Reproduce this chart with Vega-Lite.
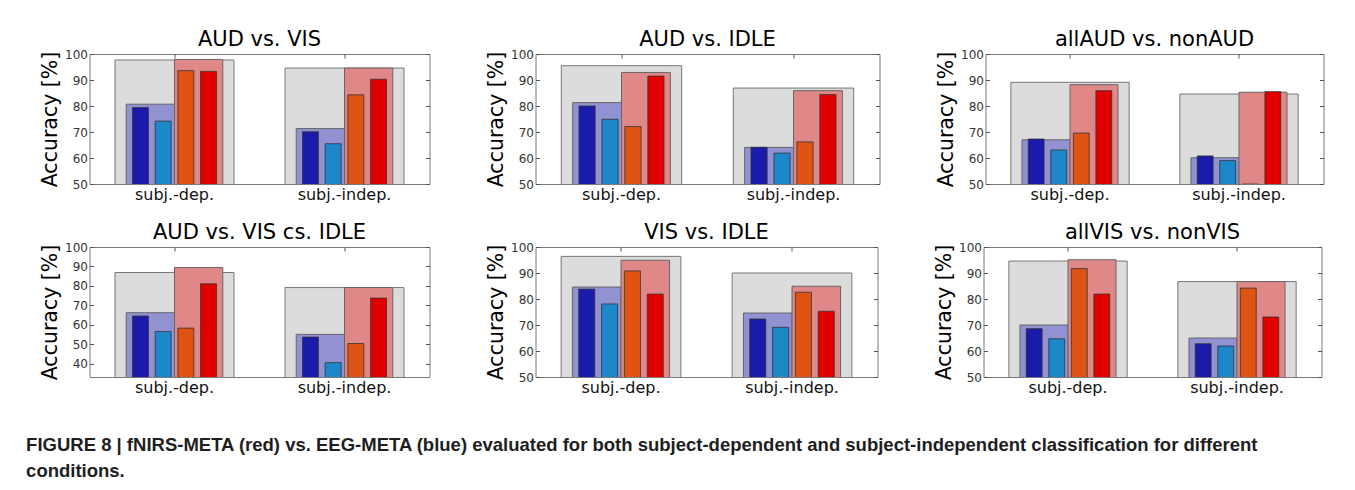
{
  "$schema": "https://vega.github.io/schema/vega-lite/v6.json",
  "padding": {"left": 25.5, "top": 28, "right": 5, "bottom": 5},
  "background": "white",
  "config": {
    "view": {"stroke": "#7a7a7a", "strokeWidth": 1},
    "font": "DejaVu Sans",
    "axis": {"labelFont": "DejaVu Sans", "titleFont": "DejaVu Sans", "labelColor": "#333", "tickColor": "#555", "domain": false, "grid": false, "labelFontSize": 12, "titleFontWeight": "normal", "titleColor": "#000"},
    "title": {"font": "DejaVu Sans", "fontWeight": "normal", "fontSize": 21, "color": "#000", "offset": -2},
    "concat": {"spacing": 55}
  },
  "datasets": {
    "acc": [
      {"panel": "AUD vs. VIS", "group": "subj.-dep.", "kind": "combined", "series": "META", "value": 97.7},
      {"panel": "AUD vs. VIS", "group": "subj.-dep.", "kind": "meta", "series": "EEG-META", "value": 80.7},
      {"panel": "AUD vs. VIS", "group": "subj.-dep.", "kind": "meta", "series": "fNIRS-META", "value": 97.9},
      {"panel": "AUD vs. VIS", "group": "subj.-dep.", "kind": "single", "series": "EEG-a", "value": 79.4},
      {"panel": "AUD vs. VIS", "group": "subj.-dep.", "kind": "single", "series": "EEG-b", "value": 74.2},
      {"panel": "AUD vs. VIS", "group": "subj.-dep.", "kind": "single", "series": "fNIRS-a", "value": 93.6},
      {"panel": "AUD vs. VIS", "group": "subj.-dep.", "kind": "single", "series": "fNIRS-b", "value": 93.3},
      {"panel": "AUD vs. VIS", "group": "subj.-indep.", "kind": "combined", "series": "META", "value": 94.6},
      {"panel": "AUD vs. VIS", "group": "subj.-indep.", "kind": "meta", "series": "EEG-META", "value": 71.3},
      {"panel": "AUD vs. VIS", "group": "subj.-indep.", "kind": "meta", "series": "fNIRS-META", "value": 94.6},
      {"panel": "AUD vs. VIS", "group": "subj.-indep.", "kind": "single", "series": "EEG-a", "value": 70.1},
      {"panel": "AUD vs. VIS", "group": "subj.-indep.", "kind": "single", "series": "EEG-b", "value": 65.5},
      {"panel": "AUD vs. VIS", "group": "subj.-indep.", "kind": "single", "series": "fNIRS-a", "value": 84.3},
      {"panel": "AUD vs. VIS", "group": "subj.-indep.", "kind": "single", "series": "fNIRS-b", "value": 90.3},

      {"panel": "AUD vs. IDLE", "group": "subj.-dep.", "kind": "combined", "series": "META", "value": 95.5},
      {"panel": "AUD vs. IDLE", "group": "subj.-dep.", "kind": "meta", "series": "EEG-META", "value": 81.3},
      {"panel": "AUD vs. IDLE", "group": "subj.-dep.", "kind": "meta", "series": "fNIRS-META", "value": 92.9},
      {"panel": "AUD vs. IDLE", "group": "subj.-dep.", "kind": "single", "series": "EEG-a", "value": 80.0},
      {"panel": "AUD vs. IDLE", "group": "subj.-dep.", "kind": "single", "series": "EEG-b", "value": 74.9},
      {"panel": "AUD vs. IDLE", "group": "subj.-dep.", "kind": "single", "series": "fNIRS-a", "value": 72.1},
      {"panel": "AUD vs. IDLE", "group": "subj.-dep.", "kind": "single", "series": "fNIRS-b", "value": 91.5},
      {"panel": "AUD vs. IDLE", "group": "subj.-indep.", "kind": "combined", "series": "META", "value": 86.9},
      {"panel": "AUD vs. IDLE", "group": "subj.-indep.", "kind": "meta", "series": "EEG-META", "value": 64.1},
      {"panel": "AUD vs. IDLE", "group": "subj.-indep.", "kind": "meta", "series": "fNIRS-META", "value": 85.9},
      {"panel": "AUD vs. IDLE", "group": "subj.-indep.", "kind": "single", "series": "EEG-a", "value": 64.1},
      {"panel": "AUD vs. IDLE", "group": "subj.-indep.", "kind": "single", "series": "EEG-b", "value": 61.9},
      {"panel": "AUD vs. IDLE", "group": "subj.-indep.", "kind": "single", "series": "fNIRS-a", "value": 66.2},
      {"panel": "AUD vs. IDLE", "group": "subj.-indep.", "kind": "single", "series": "fNIRS-b", "value": 84.4},

      {"panel": "allAUD vs. nonAUD", "group": "subj.-dep.", "kind": "combined", "series": "META", "value": 89.1},
      {"panel": "allAUD vs. nonAUD", "group": "subj.-dep.", "kind": "meta", "series": "EEG-META", "value": 67.0},
      {"panel": "allAUD vs. nonAUD", "group": "subj.-dep.", "kind": "meta", "series": "fNIRS-META", "value": 88.2},
      {"panel": "allAUD vs. nonAUD", "group": "subj.-dep.", "kind": "single", "series": "EEG-a", "value": 67.3},
      {"panel": "allAUD vs. nonAUD", "group": "subj.-dep.", "kind": "single", "series": "EEG-b", "value": 63.1},
      {"panel": "allAUD vs. nonAUD", "group": "subj.-dep.", "kind": "single", "series": "fNIRS-a", "value": 69.6},
      {"panel": "allAUD vs. nonAUD", "group": "subj.-dep.", "kind": "single", "series": "fNIRS-b", "value": 85.9},
      {"panel": "allAUD vs. nonAUD", "group": "subj.-indep.", "kind": "combined", "series": "META", "value": 84.6},
      {"panel": "allAUD vs. nonAUD", "group": "subj.-indep.", "kind": "meta", "series": "EEG-META", "value": 60.1},
      {"panel": "allAUD vs. nonAUD", "group": "subj.-indep.", "kind": "meta", "series": "fNIRS-META", "value": 85.3},
      {"panel": "allAUD vs. nonAUD", "group": "subj.-indep.", "kind": "single", "series": "EEG-a", "value": 60.8},
      {"panel": "allAUD vs. nonAUD", "group": "subj.-indep.", "kind": "single", "series": "EEG-b", "value": 59.0},
      {"panel": "allAUD vs. nonAUD", "group": "subj.-indep.", "kind": "single", "series": "fNIRS-a", "value": 50.0},
      {"panel": "allAUD vs. nonAUD", "group": "subj.-indep.", "kind": "single", "series": "fNIRS-b", "value": 85.5},

      {"panel": "AUD vs. VIS cs. IDLE", "group": "subj.-dep.", "kind": "combined", "series": "META", "value": 86.9},
      {"panel": "AUD vs. VIS cs. IDLE", "group": "subj.-dep.", "kind": "meta", "series": "EEG-META", "value": 66.3},
      {"panel": "AUD vs. VIS cs. IDLE", "group": "subj.-dep.", "kind": "meta", "series": "fNIRS-META", "value": 89.5},
      {"panel": "AUD vs. VIS cs. IDLE", "group": "subj.-dep.", "kind": "single", "series": "EEG-a", "value": 64.6},
      {"panel": "AUD vs. VIS cs. IDLE", "group": "subj.-dep.", "kind": "single", "series": "EEG-b", "value": 56.7},
      {"panel": "AUD vs. VIS cs. IDLE", "group": "subj.-dep.", "kind": "single", "series": "fNIRS-a", "value": 58.4},
      {"panel": "AUD vs. VIS cs. IDLE", "group": "subj.-dep.", "kind": "single", "series": "fNIRS-b", "value": 81.1},
      {"panel": "AUD vs. VIS cs. IDLE", "group": "subj.-indep.", "kind": "combined", "series": "META", "value": 79.2},
      {"panel": "AUD vs. VIS cs. IDLE", "group": "subj.-indep.", "kind": "meta", "series": "EEG-META", "value": 55.2},
      {"panel": "AUD vs. VIS cs. IDLE", "group": "subj.-indep.", "kind": "meta", "series": "fNIRS-META", "value": 79.2},
      {"panel": "AUD vs. VIS cs. IDLE", "group": "subj.-indep.", "kind": "single", "series": "EEG-a", "value": 53.8},
      {"panel": "AUD vs. VIS cs. IDLE", "group": "subj.-indep.", "kind": "single", "series": "EEG-b", "value": 40.7},
      {"panel": "AUD vs. VIS cs. IDLE", "group": "subj.-indep.", "kind": "single", "series": "fNIRS-a", "value": 50.5},
      {"panel": "AUD vs. VIS cs. IDLE", "group": "subj.-indep.", "kind": "single", "series": "fNIRS-b", "value": 73.8},

      {"panel": "VIS vs. IDLE", "group": "subj.-dep.", "kind": "combined", "series": "META", "value": 96.4},
      {"panel": "VIS vs. IDLE", "group": "subj.-dep.", "kind": "meta", "series": "EEG-META", "value": 84.6},
      {"panel": "VIS vs. IDLE", "group": "subj.-dep.", "kind": "meta", "series": "fNIRS-META", "value": 94.9},
      {"panel": "VIS vs. IDLE", "group": "subj.-dep.", "kind": "single", "series": "EEG-a", "value": 83.8},
      {"panel": "VIS vs. IDLE", "group": "subj.-dep.", "kind": "single", "series": "EEG-b", "value": 78.1},
      {"panel": "VIS vs. IDLE", "group": "subj.-dep.", "kind": "single", "series": "fNIRS-a", "value": 90.8},
      {"panel": "VIS vs. IDLE", "group": "subj.-dep.", "kind": "single", "series": "fNIRS-b", "value": 81.9},
      {"panel": "VIS vs. IDLE", "group": "subj.-indep.", "kind": "combined", "series": "META", "value": 90.0},
      {"panel": "VIS vs. IDLE", "group": "subj.-indep.", "kind": "meta", "series": "EEG-META", "value": 74.6},
      {"panel": "VIS vs. IDLE", "group": "subj.-indep.", "kind": "meta", "series": "fNIRS-META", "value": 84.9},
      {"panel": "VIS vs. IDLE", "group": "subj.-indep.", "kind": "single", "series": "EEG-a", "value": 72.3},
      {"panel": "VIS vs. IDLE", "group": "subj.-indep.", "kind": "single", "series": "EEG-b", "value": 69.1},
      {"panel": "VIS vs. IDLE", "group": "subj.-indep.", "kind": "single", "series": "fNIRS-a", "value": 82.6},
      {"panel": "VIS vs. IDLE", "group": "subj.-indep.", "kind": "single", "series": "fNIRS-b", "value": 75.3},

      {"panel": "allVIS vs. nonVIS", "group": "subj.-dep.", "kind": "combined", "series": "META", "value": 94.6},
      {"panel": "allVIS vs. nonVIS", "group": "subj.-dep.", "kind": "meta", "series": "EEG-META", "value": 70.0},
      {"panel": "allVIS vs. nonVIS", "group": "subj.-dep.", "kind": "meta", "series": "fNIRS-META", "value": 95.1},
      {"panel": "allVIS vs. nonVIS", "group": "subj.-dep.", "kind": "single", "series": "EEG-a", "value": 68.6},
      {"panel": "allVIS vs. nonVIS", "group": "subj.-dep.", "kind": "single", "series": "EEG-b", "value": 64.7},
      {"panel": "allVIS vs. nonVIS", "group": "subj.-dep.", "kind": "single", "series": "fNIRS-a", "value": 91.7},
      {"panel": "allVIS vs. nonVIS", "group": "subj.-dep.", "kind": "single", "series": "fNIRS-b", "value": 81.9},
      {"panel": "allVIS vs. nonVIS", "group": "subj.-indep.", "kind": "combined", "series": "META", "value": 86.7},
      {"panel": "allVIS vs. nonVIS", "group": "subj.-indep.", "kind": "meta", "series": "EEG-META", "value": 65.0},
      {"panel": "allVIS vs. nonVIS", "group": "subj.-indep.", "kind": "meta", "series": "fNIRS-META", "value": 86.7},
      {"panel": "allVIS vs. nonVIS", "group": "subj.-indep.", "kind": "single", "series": "EEG-a", "value": 62.8},
      {"panel": "allVIS vs. nonVIS", "group": "subj.-indep.", "kind": "single", "series": "EEG-b", "value": 61.9},
      {"panel": "allVIS vs. nonVIS", "group": "subj.-indep.", "kind": "single", "series": "fNIRS-a", "value": 84.2},
      {"panel": "allVIS vs. nonVIS", "group": "subj.-indep.", "kind": "single", "series": "fNIRS-b", "value": 73.1}
    ]
  },
  "title": {
    "text": ["FIGURE 8 | fNIRS-META (red) vs. EEG-META (blue) evaluated for both subject-dependent and subject-independent classification for different", "conditions."],
    "orient": "bottom", "anchor": "start", "frame": "bounds",
    "font": "Liberation Sans Narrow, Liberation Sans", "fontSize": 18.5, "fontWeight": "bold", "color": "#1e1e1e",
    "lineHeight": 26, "offset": 40, "dx": -14
  },
  "vconcat": [
    {"hconcat": [
      {
        "title": "AUD vs. VIS", "width": 340, "height": 130,
        "data": {"name": "acc"},
        "transform": [{"filter": "datum.panel === 'AUD vs. VIS'"}],
        "layer": [
          {"transform": [{"filter": "datum.kind === 'combined'"}],
           "mark": {"type": "bar", "color": "#dcdcdc", "stroke": "#777", "strokeWidth": 1, "clip": true},
           "encoding": {
             "x": {"field": "group", "type": "nominal", "scale": {"domain": ["subj.-dep.", "subj.-indep."], "paddingInner": 0.3, "paddingOuter": 0.15}, "axis": {"title": null, "labelAngle": 0, "labelFontSize": 16, "labelColor": "#111", "tickSize": -4, "labelPadding": 6}},
             "y": {"field": "value", "type": "quantitative", "scale": {"domain": [50, 100], "nice": false, "zero": false}, "axis": {"title": "Accuracy [%]", "titleFontSize": 20.5, "values": [50, 60, 70, 80, 90, 100], "tickSize": -4, "labelPadding": 6, "titlePadding": 4}}
           }},
          {"transform": [{"filter": "datum.kind === 'meta'"}],
           "mark": {"type": "bar", "stroke": "#666", "strokeWidth": 1, "clip": true},
           "encoding": {
             "x": {"field": "group", "type": "nominal", "axis": {"orient": "top", "title": null, "labels": false, "tickSize": -4}},
             "xOffset": {"field": "series", "type": "nominal", "scale": {"domain": ["EEG-META", "fNIRS-META"], "paddingInner": 0, "paddingOuter": 0.232}},
             "y": {"field": "value", "type": "quantitative", "scale": {"domain": [50, 100], "nice": false, "zero": false}, "axis": {"orient": "right", "title": null, "labels": false, "values": [50, 60, 70, 80, 90, 100], "tickSize": -4}},
             "color": {"field": "series", "type": "nominal", "scale": {"domain": ["EEG-META", "fNIRS-META", "EEG-a", "EEG-b", "fNIRS-a", "fNIRS-b"], "range": ["#9292d2", "#e08888", "#1b1bab", "#1c87c9", "#df5412", "#e00000"]}, "legend": null}
           }},
          {"transform": [{"filter": "datum.kind === 'single'"}],
           "mark": {"type": "bar", "stroke": "#333", "strokeWidth": 0.8, "clip": true},
           "encoding": {
             "x": {"field": "group", "type": "nominal", "axis": null},
             "xOffset": {"field": "series", "type": "nominal", "scale": {"domain": ["EEG-a", "EEG-b", "fNIRS-a", "fNIRS-b"], "paddingInner": 0.296, "paddingOuter": 0.77}},
             "y": {"field": "value", "type": "quantitative", "scale": {"domain": [50, 100], "nice": false, "zero": false}, "axis": null},
             "color": {"field": "series", "type": "nominal", "legend": null}
           }}
        ],
        "resolve": {"scale": {"xOffset": "independent"}, "axis": {"x": "independent", "y": "independent"}}
      },
      {
        "title": "AUD vs. IDLE", "width": 344, "height": 130,
        "data": {"name": "acc"},
        "transform": [{"filter": "datum.panel === 'AUD vs. IDLE'"}],
        "layer": [
          {"transform": [{"filter": "datum.kind === 'combined'"}],
           "mark": {"type": "bar", "color": "#dcdcdc", "stroke": "#777", "strokeWidth": 1, "clip": true},
           "encoding": {
             "x": {"field": "group", "type": "nominal", "scale": {"domain": ["subj.-dep.", "subj.-indep."], "paddingInner": 0.3, "paddingOuter": 0.15}, "axis": {"title": null, "labelAngle": 0, "labelFontSize": 16, "labelColor": "#111", "tickSize": -4, "labelPadding": 6}},
             "y": {"field": "value", "type": "quantitative", "scale": {"domain": [50, 100], "nice": false, "zero": false}, "axis": {"title": "Accuracy [%]", "titleFontSize": 20.5, "values": [50, 60, 70, 80, 90, 100], "tickSize": -4, "labelPadding": 6, "titlePadding": 4}}
           }},
          {"transform": [{"filter": "datum.kind === 'meta'"}],
           "mark": {"type": "bar", "stroke": "#666", "strokeWidth": 1, "clip": true},
           "encoding": {
             "x": {"field": "group", "type": "nominal", "axis": {"orient": "top", "title": null, "labels": false, "tickSize": -4}},
             "xOffset": {"field": "series", "type": "nominal", "scale": {"domain": ["EEG-META", "fNIRS-META"], "paddingInner": 0, "paddingOuter": 0.232}},
             "y": {"field": "value", "type": "quantitative", "scale": {"domain": [50, 100], "nice": false, "zero": false}, "axis": {"orient": "right", "title": null, "labels": false, "values": [50, 60, 70, 80, 90, 100], "tickSize": -4}},
             "color": {"field": "series", "type": "nominal", "scale": {"domain": ["EEG-META", "fNIRS-META", "EEG-a", "EEG-b", "fNIRS-a", "fNIRS-b"], "range": ["#9292d2", "#e08888", "#1b1bab", "#1c87c9", "#df5412", "#e00000"]}, "legend": null}
           }},
          {"transform": [{"filter": "datum.kind === 'single'"}],
           "mark": {"type": "bar", "stroke": "#333", "strokeWidth": 0.8, "clip": true},
           "encoding": {
             "x": {"field": "group", "type": "nominal", "axis": null},
             "xOffset": {"field": "series", "type": "nominal", "scale": {"domain": ["EEG-a", "EEG-b", "fNIRS-a", "fNIRS-b"], "paddingInner": 0.296, "paddingOuter": 0.77}},
             "y": {"field": "value", "type": "quantitative", "scale": {"domain": [50, 100], "nice": false, "zero": false}, "axis": null},
             "color": {"field": "series", "type": "nominal", "legend": null}
           }}
        ],
        "resolve": {"scale": {"xOffset": "independent"}, "axis": {"x": "independent", "y": "independent"}}
      },
      {
        "title": "allAUD vs. nonAUD", "width": 338, "height": 130,
        "data": {"name": "acc"},
        "transform": [{"filter": "datum.panel === 'allAUD vs. nonAUD'"}],
        "layer": [
          {"transform": [{"filter": "datum.kind === 'combined'"}],
           "mark": {"type": "bar", "color": "#dcdcdc", "stroke": "#777", "strokeWidth": 1, "clip": true},
           "encoding": {
             "x": {"field": "group", "type": "nominal", "scale": {"domain": ["subj.-dep.", "subj.-indep."], "paddingInner": 0.3, "paddingOuter": 0.15}, "axis": {"title": null, "labelAngle": 0, "labelFontSize": 16, "labelColor": "#111", "tickSize": -4, "labelPadding": 6}},
             "y": {"field": "value", "type": "quantitative", "scale": {"domain": [50, 100], "nice": false, "zero": false}, "axis": {"title": "Accuracy [%]", "titleFontSize": 20.5, "values": [50, 60, 70, 80, 90, 100], "tickSize": -4, "labelPadding": 6, "titlePadding": 4}}
           }},
          {"transform": [{"filter": "datum.kind === 'meta'"}],
           "mark": {"type": "bar", "stroke": "#666", "strokeWidth": 1, "clip": true},
           "encoding": {
             "x": {"field": "group", "type": "nominal", "axis": {"orient": "top", "title": null, "labels": false, "tickSize": -4}},
             "xOffset": {"field": "series", "type": "nominal", "scale": {"domain": ["EEG-META", "fNIRS-META"], "paddingInner": 0, "paddingOuter": 0.232}},
             "y": {"field": "value", "type": "quantitative", "scale": {"domain": [50, 100], "nice": false, "zero": false}, "axis": {"orient": "right", "title": null, "labels": false, "values": [50, 60, 70, 80, 90, 100], "tickSize": -4}},
             "color": {"field": "series", "type": "nominal", "scale": {"domain": ["EEG-META", "fNIRS-META", "EEG-a", "EEG-b", "fNIRS-a", "fNIRS-b"], "range": ["#9292d2", "#e08888", "#1b1bab", "#1c87c9", "#df5412", "#e00000"]}, "legend": null}
           }},
          {"transform": [{"filter": "datum.kind === 'single'"}],
           "mark": {"type": "bar", "stroke": "#333", "strokeWidth": 0.8, "clip": true},
           "encoding": {
             "x": {"field": "group", "type": "nominal", "axis": null},
             "xOffset": {"field": "series", "type": "nominal", "scale": {"domain": ["EEG-a", "EEG-b", "fNIRS-a", "fNIRS-b"], "paddingInner": 0.296, "paddingOuter": 0.77}},
             "y": {"field": "value", "type": "quantitative", "scale": {"domain": [50, 100], "nice": false, "zero": false}, "axis": null},
             "color": {"field": "series", "type": "nominal", "legend": null}
           }}
        ],
        "resolve": {"scale": {"xOffset": "independent"}, "axis": {"x": "independent", "y": "independent"}}
      }
    ]},
    {"hconcat": [
      {
        "title": "AUD vs. VIS cs. IDLE", "width": 340, "height": 130,
        "data": {"name": "acc"},
        "transform": [{"filter": "datum.panel === 'AUD vs. VIS cs. IDLE'"}],
        "layer": [
          {"transform": [{"filter": "datum.kind === 'combined'"}],
           "mark": {"type": "bar", "color": "#dcdcdc", "stroke": "#777", "strokeWidth": 1, "clip": true},
           "encoding": {
             "x": {"field": "group", "type": "nominal", "scale": {"domain": ["subj.-dep.", "subj.-indep."], "paddingInner": 0.3, "paddingOuter": 0.15}, "axis": {"title": null, "labelAngle": 0, "labelFontSize": 16, "labelColor": "#111", "tickSize": -4, "labelPadding": 6}},
             "y": {"field": "value", "type": "quantitative", "scale": {"domain": [33.33, 100], "nice": false, "zero": false}, "axis": {"title": "Accuracy [%]", "titleFontSize": 20.5, "values": [40, 50, 60, 70, 80, 90, 100], "tickSize": -4, "labelPadding": 6, "titlePadding": 4}}
           }},
          {"transform": [{"filter": "datum.kind === 'meta'"}],
           "mark": {"type": "bar", "stroke": "#666", "strokeWidth": 1, "clip": true},
           "encoding": {
             "x": {"field": "group", "type": "nominal", "axis": {"orient": "top", "title": null, "labels": false, "tickSize": -4}},
             "xOffset": {"field": "series", "type": "nominal", "scale": {"domain": ["EEG-META", "fNIRS-META"], "paddingInner": 0, "paddingOuter": 0.232}},
             "y": {"field": "value", "type": "quantitative", "scale": {"domain": [33.33, 100], "nice": false, "zero": false}, "axis": {"orient": "right", "title": null, "labels": false, "values": [40, 50, 60, 70, 80, 90, 100], "tickSize": -4}},
             "color": {"field": "series", "type": "nominal", "scale": {"domain": ["EEG-META", "fNIRS-META", "EEG-a", "EEG-b", "fNIRS-a", "fNIRS-b"], "range": ["#9292d2", "#e08888", "#1b1bab", "#1c87c9", "#df5412", "#e00000"]}, "legend": null}
           }},
          {"transform": [{"filter": "datum.kind === 'single'"}],
           "mark": {"type": "bar", "stroke": "#333", "strokeWidth": 0.8, "clip": true},
           "encoding": {
             "x": {"field": "group", "type": "nominal", "axis": null},
             "xOffset": {"field": "series", "type": "nominal", "scale": {"domain": ["EEG-a", "EEG-b", "fNIRS-a", "fNIRS-b"], "paddingInner": 0.296, "paddingOuter": 0.77}},
             "y": {"field": "value", "type": "quantitative", "scale": {"domain": [33.33, 100], "nice": false, "zero": false}, "axis": null},
             "color": {"field": "series", "type": "nominal", "legend": null}
           }}
        ],
        "resolve": {"scale": {"xOffset": "independent"}, "axis": {"x": "independent", "y": "independent"}}
      },
      {
        "title": "VIS vs. IDLE", "width": 342, "height": 130,
        "data": {"name": "acc"},
        "transform": [{"filter": "datum.panel === 'VIS vs. IDLE'"}],
        "layer": [
          {"transform": [{"filter": "datum.kind === 'combined'"}],
           "mark": {"type": "bar", "color": "#dcdcdc", "stroke": "#777", "strokeWidth": 1, "clip": true},
           "encoding": {
             "x": {"field": "group", "type": "nominal", "scale": {"domain": ["subj.-dep.", "subj.-indep."], "paddingInner": 0.3, "paddingOuter": 0.15}, "axis": {"title": null, "labelAngle": 0, "labelFontSize": 16, "labelColor": "#111", "tickSize": -4, "labelPadding": 6}},
             "y": {"field": "value", "type": "quantitative", "scale": {"domain": [50, 100], "nice": false, "zero": false}, "axis": {"title": "Accuracy [%]", "titleFontSize": 20.5, "values": [50, 60, 70, 80, 90, 100], "tickSize": -4, "labelPadding": 6, "titlePadding": 4}}
           }},
          {"transform": [{"filter": "datum.kind === 'meta'"}],
           "mark": {"type": "bar", "stroke": "#666", "strokeWidth": 1, "clip": true},
           "encoding": {
             "x": {"field": "group", "type": "nominal", "axis": {"orient": "top", "title": null, "labels": false, "tickSize": -4}},
             "xOffset": {"field": "series", "type": "nominal", "scale": {"domain": ["EEG-META", "fNIRS-META"], "paddingInner": 0, "paddingOuter": 0.232}},
             "y": {"field": "value", "type": "quantitative", "scale": {"domain": [50, 100], "nice": false, "zero": false}, "axis": {"orient": "right", "title": null, "labels": false, "values": [50, 60, 70, 80, 90, 100], "tickSize": -4}},
             "color": {"field": "series", "type": "nominal", "scale": {"domain": ["EEG-META", "fNIRS-META", "EEG-a", "EEG-b", "fNIRS-a", "fNIRS-b"], "range": ["#9292d2", "#e08888", "#1b1bab", "#1c87c9", "#df5412", "#e00000"]}, "legend": null}
           }},
          {"transform": [{"filter": "datum.kind === 'single'"}],
           "mark": {"type": "bar", "stroke": "#333", "strokeWidth": 0.8, "clip": true},
           "encoding": {
             "x": {"field": "group", "type": "nominal", "axis": null},
             "xOffset": {"field": "series", "type": "nominal", "scale": {"domain": ["EEG-a", "EEG-b", "fNIRS-a", "fNIRS-b"], "paddingInner": 0.296, "paddingOuter": 0.77}},
             "y": {"field": "value", "type": "quantitative", "scale": {"domain": [50, 100], "nice": false, "zero": false}, "axis": null},
             "color": {"field": "series", "type": "nominal", "legend": null}
           }}
        ],
        "resolve": {"scale": {"xOffset": "independent"}, "axis": {"x": "independent", "y": "independent"}}
      },
      {
        "title": "allVIS vs. nonVIS", "width": 338, "height": 130,
        "data": {"name": "acc"},
        "transform": [{"filter": "datum.panel === 'allVIS vs. nonVIS'"}],
        "layer": [
          {"transform": [{"filter": "datum.kind === 'combined'"}],
           "mark": {"type": "bar", "color": "#dcdcdc", "stroke": "#777", "strokeWidth": 1, "clip": true},
           "encoding": {
             "x": {"field": "group", "type": "nominal", "scale": {"domain": ["subj.-dep.", "subj.-indep."], "paddingInner": 0.3, "paddingOuter": 0.15}, "axis": {"title": null, "labelAngle": 0, "labelFontSize": 16, "labelColor": "#111", "tickSize": -4, "labelPadding": 6}},
             "y": {"field": "value", "type": "quantitative", "scale": {"domain": [50, 100], "nice": false, "zero": false}, "axis": {"title": "Accuracy [%]", "titleFontSize": 20.5, "values": [50, 60, 70, 80, 90, 100], "tickSize": -4, "labelPadding": 6, "titlePadding": 4}}
           }},
          {"transform": [{"filter": "datum.kind === 'meta'"}],
           "mark": {"type": "bar", "stroke": "#666", "strokeWidth": 1, "clip": true},
           "encoding": {
             "x": {"field": "group", "type": "nominal", "axis": {"orient": "top", "title": null, "labels": false, "tickSize": -4}},
             "xOffset": {"field": "series", "type": "nominal", "scale": {"domain": ["EEG-META", "fNIRS-META"], "paddingInner": 0, "paddingOuter": 0.232}},
             "y": {"field": "value", "type": "quantitative", "scale": {"domain": [50, 100], "nice": false, "zero": false}, "axis": {"orient": "right", "title": null, "labels": false, "values": [50, 60, 70, 80, 90, 100], "tickSize": -4}},
             "color": {"field": "series", "type": "nominal", "scale": {"domain": ["EEG-META", "fNIRS-META", "EEG-a", "EEG-b", "fNIRS-a", "fNIRS-b"], "range": ["#9292d2", "#e08888", "#1b1bab", "#1c87c9", "#df5412", "#e00000"]}, "legend": null}
           }},
          {"transform": [{"filter": "datum.kind === 'single'"}],
           "mark": {"type": "bar", "stroke": "#333", "strokeWidth": 0.8, "clip": true},
           "encoding": {
             "x": {"field": "group", "type": "nominal", "axis": null},
             "xOffset": {"field": "series", "type": "nominal", "scale": {"domain": ["EEG-a", "EEG-b", "fNIRS-a", "fNIRS-b"], "paddingInner": 0.296, "paddingOuter": 0.77}},
             "y": {"field": "value", "type": "quantitative", "scale": {"domain": [50, 100], "nice": false, "zero": false}, "axis": null},
             "color": {"field": "series", "type": "nominal", "legend": null}
           }}
        ],
        "resolve": {"scale": {"xOffset": "independent"}, "axis": {"x": "independent", "y": "independent"}}
      }
    ]}
  ],
  "spacing": 18
}
